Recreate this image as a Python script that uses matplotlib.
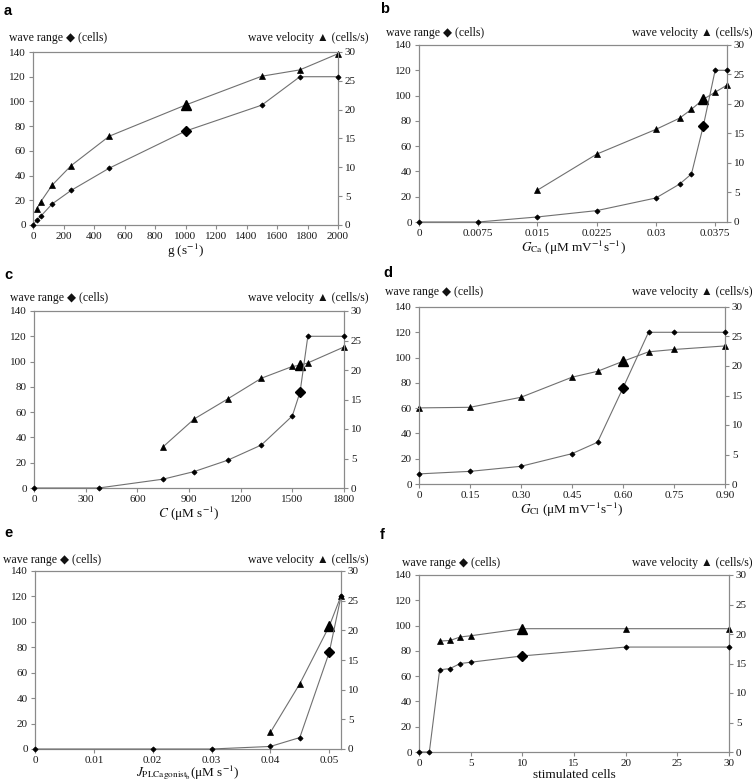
import matplotlib
matplotlib.use('Agg')
import matplotlib.pyplot as plt

plt.rcParams['font.family'] = ['Liberation Serif', 'DejaVu Serif', 'DejaVu Sans']
plt.rcParams['mathtext.fontset'] = 'stix'

# ---------------- data ----------------
a_x = [0, 25, 50, 125, 250, 500, 1000, 1500, 1750, 2000]
a_range = [0, 4, 7, 17, 28, 46, 76, 97, 120, 120]
a_vx = [25, 50, 125, 250, 500, 1000, 1500, 1750, 2000]
a_vel = [2.8, 4.0, 6.9, 10.3, 15.4, 20.8, 25.8, 26.9, 29.7]

b_x = [0, 0.0075, 0.015, 0.0225, 0.03, 0.033, 0.0345, 0.036, 0.0375, 0.039]
b_range = [0, 0, 4, 9, 19, 30, 38, 76, 120, 120]
b_vx = [0.015, 0.0225, 0.03, 0.033, 0.0345, 0.036, 0.0375, 0.039]
b_vel = [5.4, 11.5, 15.7, 17.6, 19.1, 20.8, 22.0, 23.2]

c_x = [0, 375, 750, 930, 1125, 1320, 1500, 1545, 1590, 1800]
c_range = [0, 0, 7, 13, 22, 34, 57, 76, 120, 120]
c_vx = [750, 930, 1125, 1320, 1500, 1545, 1590, 1800]
c_vel = [7.0, 11.7, 15.1, 18.6, 20.6, 20.8, 21.2, 23.9]

d_x = [0, 0.15, 0.30, 0.45, 0.525, 0.60, 0.675, 0.75, 0.90]
d_range = [8, 10, 14, 24, 33, 76, 120, 120, 120]
d_vx = [0, 0.15, 0.30, 0.45, 0.525, 0.60, 0.675, 0.75, 0.90]
d_vel = [12.9, 13.0, 14.7, 18.1, 19.1, 20.8, 22.4, 22.8, 23.4]

e_x = [0, 0.02, 0.03, 0.04, 0.045, 0.05, 0.052]
e_range = [0, 0, 0, 2, 9, 76, 120]
e_vx = [0.04, 0.045, 0.05, 0.052]
e_vel = [2.8, 11.0, 20.7, 25.8]

f_x = [0, 1, 2, 3, 4, 5, 10, 20, 30]
f_range = [0, 0, 65, 66, 70, 71, 76, 83, 83]
f_vx = [2, 3, 4, 5, 10, 20, 30]
f_vel = [18.8, 18.9, 19.5, 19.7, 20.9, 20.9, 20.9]

ref_x = [1000, 0.036, 1545, 0.60, 0.05, 10]

a_ticks = [0, 200, 400, 600, 800, 1000, 1200, 1400, 1600, 1800, 2000]
a_ticklabels = [str(t) for t in a_ticks]
b_ticks = [0, 0.0075, 0.015, 0.0225, 0.03, 0.0375]
b_ticklabels = ['0', '0.0075', '0.015', '0.0225', '0.03', '0.0375']
c_ticks = [0, 300, 600, 900, 1200, 1500, 1800]
c_ticklabels = [str(t) for t in c_ticks]
d_ticks = [0, 0.15, 0.30, 0.45, 0.60, 0.75, 0.90]
d_ticklabels = ['0', '0.15', '0.30', '0.45', '0.60', '0.75', '0.90']
e_ticks = [0, 0.01, 0.02, 0.03, 0.04, 0.05]
e_ticklabels = ['0', '0.01', '0.02', '0.03', '0.04', '0.05']
f_ticks = [0, 5, 10, 15, 20, 25, 30]
f_ticklabels = [str(t) for t in f_ticks]

left_ticks = [0, 20, 40, 60, 80, 100, 120, 140]
right_ticks = [0, 5, 10, 15, 20, 25, 30]

xlabels = [r'g (s$^{-1}$)',
           r'$G_{\mathrm{Ca}}$ (μM mV$^{-1}$s$^{-1}$)',
           r'$C$ (μM s$^{-1}$)',
           r'$G_{\mathrm{Cl}}$ (μM mV$^{-1}$s$^{-1}$)',
           r'$J_{\mathrm{PLCagonist}_{\mathrm{b}}}$(μM s$^{-1}$)',
           'stimulated cells']
letters = ['a', 'b', 'c', 'd', 'e', 'f']

panels = [
    (a_x, a_range, a_vx, a_vel, (0, 2000), a_ticks, a_ticklabels),
    (b_x, b_range, b_vx, b_vel, (0, 0.039), b_ticks, b_ticklabels),
    (c_x, c_range, c_vx, c_vel, (0, 1800), c_ticks, c_ticklabels),
    (d_x, d_range, d_vx, d_vel, (0, 0.90), d_ticks, d_ticklabels),
    (e_x, e_range, e_vx, e_vel, (0, 0.052), e_ticks, e_ticklabels),
    (f_x, f_range, f_vx, f_vel, (0, 30), f_ticks, f_ticklabels),
]

# ---------------- layout (pixels) ----------------
W, H = 752, 782
boxes = [  # left, right, top, bottom
    (33, 338, 52, 225),
    (419, 727, 45, 222),
    (34, 344, 311, 488),
    (419, 725, 307, 484),
    (35, 341, 571, 749),
    (419, 729, 575, 752),
]
letter_pos = [(4, 11), (380, 9), (4, 275), (383, 273), (4, 533), (380, 535)]
header_off = [  # left text offset from left spine, right text offset from right spine, height above top
    (-24, 30, 14), (-33, 25, 12), (-24, 24, 13),
    (-34, 27, 15), (-32, 27, 11), (-17, 23, 12),
]
xlabel_pad = [1, 1, 1, 1, -1, 1]

fig = plt.figure(figsize=(W / 100, H / 100), dpi=100)
fig.patch.set_facecolor('white')

spine_col = '#8a8a8a'
line_col = '#707070'

for i, (px, pr, vx, vv, xlim, xt, xtl) in enumerate(panels):
    l, r, t, b = boxes[i]
    ax = fig.add_axes([l / W, 1 - b / H, (r - l) / W, (b - t) / H])
    ax2 = ax.twinx()
    ax.set_zorder(ax2.get_zorder() + 1)
    ax.patch.set_visible(False)

    ax.plot(px, pr, color=line_col, lw=0.8, marker='D', ms=2.6, mfc='black',
            mec='black', mew=0.6, zorder=3, clip_on=False)
    ax2.plot(vx, vv, color=line_col, lw=0.8, marker='^', ms=3.8, mfc='black',
             mec='black', mew=0.5, zorder=3, clip_on=False)
    # reference (default) point drawn larger
    rx = ref_x[i]
    bx = [x for x in px if x == rx]
    by = [y for x, y in zip(px, pr) if x == rx]
    ax.plot(bx, by, ls='none', marker='D', ms=5.0, color='black', zorder=4, clip_on=False)
    tvx = [x for x in vx if x == rx]
    tvy = [y for x, y in zip(vx, vv) if x == rx]
    ax2.plot(tvx, tvy, ls='none', marker='^', ms=7.5, color='black', zorder=4, clip_on=False)

    ax.set_xlim(*xlim)
    ax.set_ylim(0, 140)
    ax2.set_ylim(0, 30)
    ax.set_xticks(xt)
    ax.set_xticklabels(xtl)
    ax.set_yticks(left_ticks)
    ax2.set_yticks(right_ticks)

    for a_ in (ax, ax2):
        for s in a_.spines.values():
            s.set_color(spine_col)
            s.set_linewidth(0.8)
        a_.tick_params(direction='out', length=3, width=0.8, color=spine_col,
                       labelsize=8, pad=2, labelcolor='#1a1a1a')
    ax.set_xlabel(xlabels[i], fontsize=9.5, labelpad=xlabel_pad[i], color='#111111')

    # headers
    lo, ro, up = header_off[i]
    fig.text((l + lo) / W, 1 - (t - up) / H, 'wave range ◆ (cells)',
             ha='left', va='center', fontsize=8.5, color='#111111')
    fig.text((r + ro) / W, 1 - (t - up) / H, 'wave velocity ▲ (cells/s)',
             ha='right', va='center', fontsize=8.5, color='#111111')
    lx, ly = letter_pos[i]
    fig.text(lx / W, 1 - ly / H, letters[i], ha='left', va='center',
             fontsize=10.5, fontweight='bold', family='Liberation Sans')

fig.savefig('out.png', dpi=100)
